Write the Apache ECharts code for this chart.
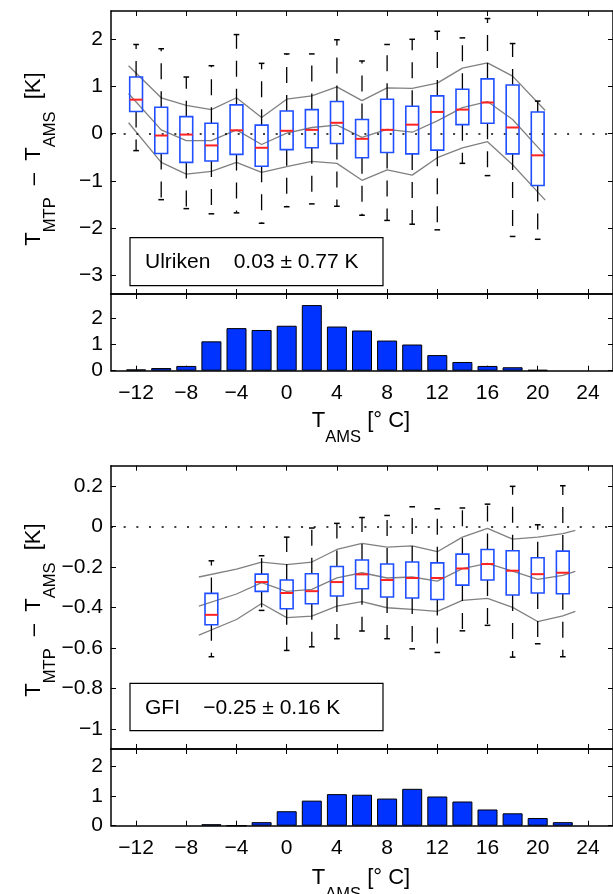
<!DOCTYPE html>
<html><head><meta charset="utf-8">
<script src="https://cdn.jsdelivr.net/npm/echarts@6/dist/echarts.min.js"></script>
<style>html,body{margin:0;padding:0;background:#fff}#c{width:613px;height:894px}</style>
</head><body><div id="c"></div>
<script>
// ---------- data ----------
const xTicks = [-12, -8, -4, 0, 4, 8, 12, 16, 20, 24];
const yTicksUlr = [-3, -2, -1, 0, 1, 2];
const yTicksGfi = [-1, -0.8, -0.6, -0.4, -0.2, 0, 0.2];
const yTicksHist = [0, 1, 2];

// Ulriken box statistics
const ulrBins = [-12, -10, -8, -6, -4, -2, 0, 2, 4, 6, 8, 10, 12, 14, 16, 18, 20];
const ulrHigh = [1.89, 1.80, 1.20, 1.44, 2.10, 1.49, 1.69, 1.69, 1.99, 1.54, 1.89, 2.00, 2.17, 2.03, 2.44, 1.91, 0.69];
const ulrQ3   = [1.20, 0.56, 0.36, 0.22, 0.61, 0.18, 0.48, 0.51, 0.68, 0.30, 0.73, 0.58, 0.80, 0.94, 1.16, 1.03, 0.46];
const ulrMed  = [0.72, -0.04, -0.02, -0.25, 0.07, -0.30, 0.06, 0.08, 0.23, -0.11, 0.08, 0.19, 0.46, 0.51, 0.66, 0.13, -0.46];
const ulrQ1   = [0.47, -0.42, -0.61, -0.58, -0.44, -0.69, -0.34, -0.30, -0.21, -0.51, -0.40, -0.43, -0.35, 0.19, 0.22, -0.43, -1.10];
const ulrLow  = [-0.36, -1.40, -1.59, -1.70, -1.68, -1.90, -1.55, -1.49, -1.54, -1.73, -1.84, -1.92, -2.04, -0.63, -0.89, -2.18, -2.24];
// Ulriken mean +/- std lines
const ulrLineX  = [-12.6, -10, -8, -6, -4, -2, 0, 2, 4, 6, 8, 10, 12, 14, 16, 18, 20.6];
const ulrUpper  = [1.44, 0.76, 0.60, 0.51, 0.76, 0.34, 0.73, 0.80, 0.99, 0.70, 0.97, 0.96, 1.07, 1.39, 1.50, 1.22, 0.49];
const ulrMean   = [0.85, 0.08, -0.15, -0.15, 0.08, -0.23, 0.01, 0.13, 0.18, -0.08, 0.09, 0.03, 0.27, 0.55, 0.68, 0.30, -0.46];
const ulrLower  = [0.23, -0.61, -0.86, -0.80, -0.61, -0.82, -0.70, -0.59, -0.63, -0.99, -0.77, -0.88, -0.51, -0.30, -0.17, -0.66, -1.41];
// Ulriken histogram
const ulrHistBins = [-12, -10, -8, -6, -4, -2, 0, 2, 4, 6, 8, 10, 12, 14, 16, 18, 20];
const ulrHist     = [0.05, 0.10, 0.18, 1.11, 1.61, 1.54, 1.70, 2.48, 1.67, 1.52, 1.14, 0.99, 0.59, 0.33, 0.18, 0.13, 0.03];

// GFI box statistics
const gfiBins = [-6, -2, 0, 2, 4, 6, 8, 10, 12, 14, 16, 18, 20, 22];
const gfiHigh = [-0.170, -0.145, -0.053, -0.008, 0.015, 0.044, 0.054, 0.097, 0.087, 0.091, 0.110, 0.198, 0.008, 0.201];
const gfiQ3   = [-0.331, -0.236, -0.265, -0.234, -0.198, -0.166, -0.186, -0.176, -0.180, -0.137, -0.114, -0.120, -0.155, -0.122];
const gfiMed  = [-0.437, -0.275, -0.329, -0.320, -0.275, -0.237, -0.265, -0.255, -0.255, -0.208, -0.186, -0.219, -0.236, -0.229];
const gfiQ1   = [-0.486, -0.321, -0.407, -0.382, -0.344, -0.308, -0.349, -0.354, -0.361, -0.290, -0.265, -0.339, -0.329, -0.333];
const gfiLow  = [-0.644, -0.415, -0.613, -0.595, -0.555, -0.517, -0.555, -0.605, -0.623, -0.516, -0.489, -0.646, -0.580, -0.644];
// GFI mean +/- std lines
const gfiLineX = [-7, -4, -2, 0, 2, 4, 6, 8, 10, 12, 14, 16, 18, 20, 22, 23];
const gfiUpper = [-0.250, -0.211, -0.176, -0.189, -0.176, -0.114, -0.084, -0.102, -0.096, -0.125, -0.053, -0.010, -0.063, -0.053, -0.036, -0.020];
const gfiMean  = [-0.394, -0.334, -0.278, -0.321, -0.311, -0.254, -0.229, -0.255, -0.250, -0.270, -0.209, -0.183, -0.221, -0.262, -0.242, -0.222];
const gfiLower = [-0.537, -0.460, -0.381, -0.451, -0.443, -0.394, -0.372, -0.402, -0.410, -0.420, -0.366, -0.356, -0.400, -0.470, -0.442, -0.420];
// GFI histogram
const gfiHistBins = [-6, -4, -2, 0, 2, 4, 6, 8, 10, 12, 14, 16, 18, 20, 22];
const gfiHist     = [0.05, 0, 0.12, 0.49, 0.85, 1.07, 1.05, 0.92, 1.25, 0.99, 0.82, 0.55, 0.42, 0.26, 0.12];

const ulrText = 'Ulriken    0.03 ± 0.77 K';
const gfiText = 'GFI    −0.25 ± 0.16 K';

// ---------- chart ----------
const F = '"Liberation Sans", Arial, Helvetica, sans-serif';
const FS = 21;
const fmt = v => { const r = Math.round(v * 10) / 10; return r < 0 ? '−' + Math.abs(r) : String(r); };
const GL = 111, GW = 506.7;
const grids = [
  { left: GL, top: 11, width: GW, height: 283 },
  { left: GL, top: 294, width: GW, height: 76.7 },
  { left: GL, top: 465.7, width: GW, height: 283.3 },
  { left: GL, top: 749, width: GW, height: 76.7 }
];
function xAx(gi, pos, show) {
  return { gridIndex: gi, type: 'value', position: pos, min: -14, max: 26,
    axisLine: { show: true, onZero: false, lineStyle: { color: '#000', width: 1.5 } },
    axisTick: { show: true, inside: true, length: 5, customValues: xTicks, lineStyle: { color: '#000', width: 1 } },
    axisLabel: { show: show, customValues: xTicks, formatter: fmt, margin: 12, fontSize: FS, fontFamily: F, color: '#000' },
    splitLine: { show: false } };
}
function yAx(gi, pos, min, max, ticks, show) {
  return { gridIndex: gi, type: 'value', position: pos, min: min, max: max,
    axisLine: { show: true, onZero: false, lineStyle: { color: '#000', width: 1.5 } },
    axisTick: { show: true, inside: true, length: 5, customValues: ticks, lineStyle: { color: '#000', width: 1 } },
    axisLabel: { show: show, customValues: ticks, formatter: fmt, margin: 8, fontSize: FS, fontFamily: F, color: '#000' },
    splitLine: { show: false } };
}
const xAxes = [], yAxes = [];
const yRanges = [[-3.4, 2.6, yTicksUlr], [0, 2.9, yTicksHist], [-1.1, 0.3, yTicksGfi], [0, 2.6, yTicksHist]];
for (let g = 0; g < 4; g++) {
  xAxes.push(xAx(g, 'bottom', g === 1 || g === 3));
  xAxes.push(xAx(g, 'top', false));
  yAxes.push(yAx(g, 'left', yRanges[g][0], yRanges[g][1], yRanges[g][2], true));
  yAxes.push(yAx(g, 'right', yRanges[g][0], yRanges[g][1], yRanges[g][2], false));
}

function renderBox(params, api) {
  const x = api.value(0);
  const pLow = api.coord([x, api.value(1)]);
  const pQ1 = api.coord([x, api.value(2)]);
  const pMed = api.coord([x, api.value(3)]);
  const pQ3 = api.coord([x, api.value(4)]);
  const pHigh = api.coord([x, api.value(5)]);
  const bw = api.size([1.02, 0])[0];
  const cw = api.size([0.45, 0])[0];
  const cx = pMed[0];
  const wl = { stroke: '#000', lineWidth: 1.3, lineDash: [16, 12] };
  const cl = { stroke: '#000', lineWidth: 1.5 };
  return { type: 'group', children: [
    { type: 'line', shape: { x1: cx, y1: pQ3[1], x2: cx, y2: pHigh[1] }, style: wl },
    { type: 'line', shape: { x1: cx, y1: pQ1[1], x2: cx, y2: pLow[1] }, style: wl },
    { type: 'line', shape: { x1: cx - cw / 2, y1: pHigh[1], x2: cx + cw / 2, y2: pHigh[1] }, style: cl },
    { type: 'line', shape: { x1: cx - cw / 2, y1: pLow[1], x2: cx + cw / 2, y2: pLow[1] }, style: cl },
    { type: 'rect', shape: { x: cx - bw / 2, y: pQ3[1], width: bw, height: pQ1[1] - pQ3[1] },
      style: { fill: 'none', stroke: '#1f4fff', lineWidth: 1.6 } },
    { type: 'line', shape: { x1: cx - bw / 2, y1: pMed[1], x2: cx + bw / 2, y2: pMed[1] },
      style: { stroke: '#ff2222', lineWidth: 2 } }
  ] };
}
function boxSeries(ax, bins, low, q1, med, q3, high) {
  return { type: 'custom', xAxisIndex: ax, yAxisIndex: ax, renderItem: renderBox, z: 5,
    encode: { x: 0, y: [1, 2, 3, 4, 5] },
    data: bins.map((b, i) => [b, low[i], q1[i], med[i], q3[i], high[i]]) };
}
function greyLine(ax, xs, ys, zeroLine) {
  const s = { type: 'line', xAxisIndex: ax, yAxisIndex: ax, showSymbol: false, symbol: 'none', z: 3,
    lineStyle: { color: '#808080', width: 1.3 }, data: xs.map((x, i) => [x, ys[i]]) };
  if (zeroLine) s.markLine = { silent: true, symbol: 'none', animation: false, label: { show: false },
    lineStyle: { type: [2, 10.67], color: '#000', width: 1.5 }, data: [{ yAxis: 0 }] };
  return s;
}
function histSeries(ax, bins, vals) {
  return { type: 'bar', xAxisIndex: ax, yAxisIndex: ax, barWidth: 20,
    itemStyle: { color: '#0033ff', borderColor: '#000', borderWidth: 1 },
    data: bins.map((b, i) => [b, vals[i]]) };
}

const rich = {
  a: { fontSize: 22, fontFamily: F, color: '#000', lineHeight: 24, verticalAlign: 'top' },
  s: { fontSize: 16.5, fontFamily: F, color: '#000', lineHeight: 17, padding: [19, 0, 0, 0], verticalAlign: 'top' }
};
const yLab = '{a|T}{s|MTP}{a|  –  T}{s|AMS}{a|  [K]}';
const xLab = '{a|T}{s|AMS}{a| [° C]}';
function txt(x, y, text, rot) {
  return { type: 'text', x: x, y: y, rotation: rot || 0, z: 100,
    style: { text: text, rich: rich, align: 'center', verticalAlign: 'middle', fill: '#000' } };
}
function legendBox(x, y, w, h, text) {
  return [
    { type: 'rect', shape: { x: x, y: y, width: w, height: h }, z: 100,
      style: { fill: '#fff', stroke: '#000', lineWidth: 1.2 } },
    { type: 'text', x: x + 15, y: y + h / 2 + 1, z: 101,
      style: { text: text, font: FS + 'px ' + F, fill: '#000', align: 'left', verticalAlign: 'middle' } }
  ];
}

const chart = echarts.init(document.getElementById('c'), null, { renderer: 'canvas' });
chart.setOption({
  animation: false,
  backgroundColor: '#fff',
  grid: grids,
  xAxis: xAxes,
  yAxis: yAxes,
  series: [
    greyLine(0, ulrLineX, ulrUpper, true),
    greyLine(0, ulrLineX, ulrMean, false),
    greyLine(0, ulrLineX, ulrLower, false),
    boxSeries(0, ulrBins, ulrLow, ulrQ1, ulrMed, ulrQ3, ulrHigh),
    histSeries(2, ulrHistBins, ulrHist),
    greyLine(4, gfiLineX, gfiUpper, true),
    greyLine(4, gfiLineX, gfiMean, false),
    greyLine(4, gfiLineX, gfiLower, false),
    boxSeries(4, gfiBins, gfiLow, gfiQ1, gfiMed, gfiQ3, gfiHigh),
    histSeries(6, gfiHistBins, gfiHist)
  ],
  graphic: [
    txt(35, 159, yLab, Math.PI / 2),
    txt(35, 610, yLab, Math.PI / 2),
    txt(361, 422, xLab, 0),
    txt(361, 878.5, xLab, 0),
    ...legendBox(130, 237.7, 253, 48, ulrText),
    ...legendBox(130, 683.3, 253, 47.4, gfiText)
  ]
});
</script>
</body></html>
